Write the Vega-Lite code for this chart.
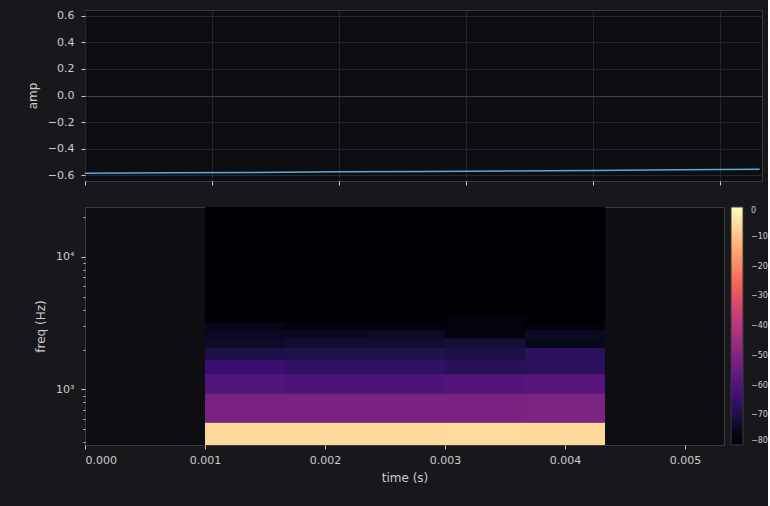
{
  "$schema": "https://vega.github.io/schema/vega-lite/v6.json",
  "background": "#18181c",
  "padding": {"left": 25, "top": 9, "right": 0, "bottom": 26},
  "spacing": 20,
  "datasets": {
    "wave": [
      {"t": 0.0, "amp": -0.586},
      {"t": 0.000667, "amp": -0.583},
      {"t": 0.001333, "amp": -0.58},
      {"t": 0.002, "amp": -0.576},
      {"t": 0.002667, "amp": -0.573},
      {"t": 0.003333, "amp": -0.569},
      {"t": 0.004, "amp": -0.565},
      {"t": 0.004667, "amp": -0.561},
      {"t": 0.0053125, "amp": -0.557}
    ],
    "spec": [
      {"t0": 0.001, "t1": 0.0016667, "f0": 187.5, "f1": 562.5, "db": -6.3},
      {"t0": 0.001, "t1": 0.0016667, "f0": 562.5, "f1": 937.5, "db": -52},
      {"t0": 0.001, "t1": 0.0016667, "f0": 937.5, "f1": 1312.5, "db": -60},
      {"t0": 0.001, "t1": 0.0016667, "f0": 1312.5, "f1": 1687.5, "db": -64},
      {"t0": 0.001, "t1": 0.0016667, "f0": 1687.5, "f1": 2062.5, "db": -70},
      {"t0": 0.001, "t1": 0.0016667, "f0": 2062.5, "f1": 2437.5, "db": -74},
      {"t0": 0.001, "t1": 0.0016667, "f0": 2437.5, "f1": 2812.5, "db": -75},
      {"t0": 0.001, "t1": 0.0016667, "f0": 2812.5, "f1": 3187.5, "db": -76.5},
      {"t0": 0.001, "t1": 0.0016667, "f0": 3187.5, "f1": 3562.5, "db": -80},
      {"t0": 0.001, "t1": 0.0016667, "f0": 3562.5, "f1": 24187.5, "db": -80},

      {"t0": 0.0016667, "t1": 0.0023333, "f0": 187.5, "f1": 562.5, "db": -6},
      {"t0": 0.0016667, "t1": 0.0023333, "f0": 562.5, "f1": 937.5, "db": -52},
      {"t0": 0.0016667, "t1": 0.0023333, "f0": 937.5, "f1": 1312.5, "db": -60.5},
      {"t0": 0.0016667, "t1": 0.0023333, "f0": 1312.5, "f1": 1687.5, "db": -65.5},
      {"t0": 0.0016667, "t1": 0.0023333, "f0": 1687.5, "f1": 2062.5, "db": -69.5},
      {"t0": 0.0016667, "t1": 0.0023333, "f0": 2062.5, "f1": 2437.5, "db": -73},
      {"t0": 0.0016667, "t1": 0.0023333, "f0": 2437.5, "f1": 2812.5, "db": -75},
      {"t0": 0.0016667, "t1": 0.0023333, "f0": 2812.5, "f1": 3187.5, "db": -78},
      {"t0": 0.0016667, "t1": 0.0023333, "f0": 3187.5, "f1": 3562.5, "db": -80},
      {"t0": 0.0016667, "t1": 0.0023333, "f0": 3562.5, "f1": 24187.5, "db": -80},

      {"t0": 0.0023333, "t1": 0.003, "f0": 187.5, "f1": 562.5, "db": -6},
      {"t0": 0.0023333, "t1": 0.003, "f0": 562.5, "f1": 937.5, "db": -52},
      {"t0": 0.0023333, "t1": 0.003, "f0": 937.5, "f1": 1312.5, "db": -60.5},
      {"t0": 0.0023333, "t1": 0.003, "f0": 1312.5, "f1": 1687.5, "db": -65.5},
      {"t0": 0.0023333, "t1": 0.003, "f0": 1687.5, "f1": 2062.5, "db": -69.5},
      {"t0": 0.0023333, "t1": 0.003, "f0": 2062.5, "f1": 2437.5, "db": -73},
      {"t0": 0.0023333, "t1": 0.003, "f0": 2437.5, "f1": 2812.5, "db": -74.5},
      {"t0": 0.0023333, "t1": 0.003, "f0": 2812.5, "f1": 3187.5, "db": -78},
      {"t0": 0.0023333, "t1": 0.003, "f0": 3187.5, "f1": 3562.5, "db": -80},
      {"t0": 0.0023333, "t1": 0.003, "f0": 3562.5, "f1": 24187.5, "db": -80},

      {"t0": 0.003, "t1": 0.0036667, "f0": 187.5, "f1": 562.5, "db": -5.8},
      {"t0": 0.003, "t1": 0.0036667, "f0": 562.5, "f1": 937.5, "db": -51.5},
      {"t0": 0.003, "t1": 0.0036667, "f0": 937.5, "f1": 1312.5, "db": -59.5},
      {"t0": 0.003, "t1": 0.0036667, "f0": 1312.5, "f1": 1687.5, "db": -67.5},
      {"t0": 0.003, "t1": 0.0036667, "f0": 1687.5, "f1": 2062.5, "db": -70},
      {"t0": 0.003, "t1": 0.0036667, "f0": 2062.5, "f1": 2437.5, "db": -72},
      {"t0": 0.003, "t1": 0.0036667, "f0": 2437.5, "f1": 2812.5, "db": -78},
      {"t0": 0.003, "t1": 0.0036667, "f0": 2812.5, "f1": 3187.5, "db": -78},
      {"t0": 0.003, "t1": 0.0036667, "f0": 3187.5, "f1": 3562.5, "db": -78},
      {"t0": 0.003, "t1": 0.0036667, "f0": 3562.5, "f1": 24187.5, "db": -80},

      {"t0": 0.0036667, "t1": 0.0043333, "f0": 187.5, "f1": 562.5, "db": -6},
      {"t0": 0.0036667, "t1": 0.0043333, "f0": 562.5, "f1": 937.5, "db": -51},
      {"t0": 0.0036667, "t1": 0.0043333, "f0": 937.5, "f1": 1312.5, "db": -58.5},
      {"t0": 0.0036667, "t1": 0.0043333, "f0": 1312.5, "f1": 1687.5, "db": -67},
      {"t0": 0.0036667, "t1": 0.0043333, "f0": 1687.5, "f1": 2062.5, "db": -67},
      {"t0": 0.0036667, "t1": 0.0043333, "f0": 2062.5, "f1": 2437.5, "db": -76},
      {"t0": 0.0036667, "t1": 0.0043333, "f0": 2437.5, "f1": 2812.5, "db": -74.5},
      {"t0": 0.0036667, "t1": 0.0043333, "f0": 2812.5, "f1": 3187.5, "db": -79},
      {"t0": 0.0036667, "t1": 0.0043333, "f0": 3187.5, "f1": 3562.5, "db": -80},
      {"t0": 0.0036667, "t1": 0.0043333, "f0": 3562.5, "f1": 24187.5, "db": -80}
    ]
  },
  "vconcat": [
    {
      "width": 677,
      "height": 171,
      "data": {"name": "wave"},
      "mark": {"type": "line", "color": "#5aa9e6", "strokeWidth": 1.5, "clip": true},
      "encoding": {
        "x": {
          "field": "t", "type": "quantitative",
          "scale": {"domain": [0, 0.0053307], "nice": false, "zero": false},
          "axis": {"values": [0, 0.001, 0.002, 0.003, 0.004, 0.005], "labels": false, "title": null, "grid": true, "gridColor": "#26262b"}
        },
        "y": {
          "field": "amp", "type": "quantitative",
          "scale": {"domain": [-0.645, 0.645], "nice": false, "zero": false},
          "axis": {
            "values": [-0.6, -0.4, -0.2, 0, 0.2, 0.4, 0.6],
            "format": ".1f",
            "labelExpr": "replace(datum.label, '-', '−')",
            "title": "amp",
            "grid": true,
            "gridColor": {"condition": {"test": "datum.value == 0", "value": "#404046"}, "value": "#26262b"}
          }
        }
      }
    },
    {
      "width": 639,
      "height": 238,
      "data": {"name": "spec"},
      "mark": {"type": "rect", "clip": true},
      "encoding": {
        "x": {
          "field": "t0", "type": "quantitative",
          "scale": {"domain": [0, 0.005325], "nice": false, "zero": false},
          "axis": {"values": [0, 0.001, 0.002, 0.003, 0.004, 0.005], "format": ".3f", "title": "time (s)", "labelPadding": 5, "titlePadding": 7}
        },
        "x2": {"field": "t1"},
        "y": {
          "field": "f0", "type": "quantitative",
          "scale": {"type": "log", "domain": [381, 23770], "nice": false},
          "axis": {
            "values": [400, 500, 600, 700, 800, 900, 1000, 2000, 3000, 4000, 5000, 6000, 7000, 8000, 9000, 10000, 20000],
            "labelExpr": "datum.value == 1000 ? '10³' : (datum.value == 10000 ? '10⁴' : '')",
            "tickSize": {"condition": {"test": "datum.value == 1000 || datum.value == 10000", "value": 4}, "value": 2},
            "title": "freq (Hz)"
          }
        },
        "y2": {"field": "f1"},
        "color": {
          "field": "db", "type": "quantitative",
          "scale": {"scheme": "magma", "domain": [-80, 0], "clamp": true},
          "legend": {
            "type": "gradient",
            "title": null,
            "orient": "none",
            "legendX": 646,
            "legendY": 197,
            "direction": "vertical",
            "gradientLength": 238,
            "gradientThickness": 12,
            "values": [0, -10, -20, -30, -40, -50, -60, -70, -80],
            "labelExpr": "replace(datum.label, '-', '−')",
            "labelFontSize": 8,
            "labelOffset": 8,
            "labelOverlap": false,
            "labelColor": "#cccccc",
            "labelFont": "DejaVu Sans",
            "gradientStrokeColor": "#3a3a3f",
            "gradientStrokeWidth": 1
          }
        }
      }
    }
  ],
  "config": {
    "view": {"stroke": "#3a3a3f", "fill": "#0e0e12", "strokeWidth": 1},
    "axis": {
      "labelFont": "DejaVu Sans",
      "titleFont": "DejaVu Sans",
      "labelFontSize": 11,
      "titleFontSize": 12,
      "titleFontWeight": "normal",
      "labelColor": "#cccccc",
      "titleColor": "#cccccc",
      "tickColor": "#cccccc",
      "tickSize": 4,
      "labelPadding": 7,
      "titlePadding": 8,
      "domain": false,
      "grid": false
    }
  }
}
